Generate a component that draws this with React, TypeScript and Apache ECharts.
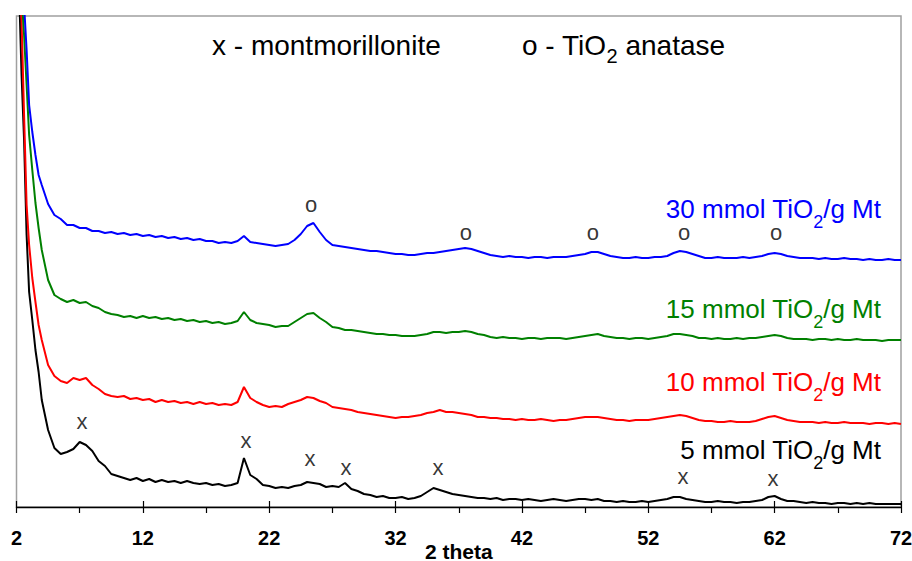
import React, { useEffect, useRef } from "react";
import * as echarts from "echarts";

// Diffraction angle (2 theta, degrees) shared by every pattern
const theta = [
  2.2, 2.4, 2.6, 2.8, 3.0, 3.25, 3.5, 3.75, 4.0,
  4.5, 5, 5.5, 6, 6.5, 7, 7.5, 8, 8.5, 9, 9.5,
  10, 10.5, 11, 11.5, 12, 12.5, 13, 13.5, 14, 14.5,
  15, 15.5, 16, 16.5, 17, 17.5, 18, 18.5, 19, 19.5,
  20, 20.5, 21, 21.5, 22, 22.5, 23, 23.5, 24, 24.5,
  25, 25.5, 26, 26.5, 27, 27.5, 28, 28.5, 29, 29.5,
  30, 30.5, 31, 31.5, 32, 32.5, 33, 33.5, 34, 34.5,
  35, 35.5, 36, 36.5, 37, 37.5, 38, 38.5, 39, 39.5,
  40, 40.5, 41, 41.5, 42, 42.5, 43, 43.5, 44, 44.5,
  45, 45.5, 46, 46.5, 47, 47.5, 48, 48.5, 49, 49.5,
  50, 50.5, 51, 51.5, 52, 52.5, 53, 53.5, 54, 54.5,
  55, 55.5, 56, 56.5, 57, 57.5, 58, 58.5, 59, 59.5,
  60, 60.5, 61, 61.5, 62, 62.5, 63, 63.5, 64, 64.5,
  65, 65.5, 66, 66.5, 67, 67.5, 68, 68.5, 69, 69.5,
  70, 70.5, 71, 71.5, 72,
];

// Intensities (a.u., patterns offset vertically) for each TiO2 loading
const mmol5 = [
  520, 432, 367, 272, 215, 187, 157, 135, 107,
  77, 59, 53, 55, 58, 65, 62, 56, 46, 41, 33,
  31, 29, 27, 29, 26, 28, 25, 27, 25, 26,
  24, 26, 24, 23, 24, 22, 23, 21, 22, 24,
  49, 32, 28, 22, 21, 19, 20, 19, 21, 22,
  25, 24, 23, 20, 21, 20, 24, 18, 16, 13,
  12, 10, 11, 9, 9, 10, 8, 9, 11, 15,
  19, 17, 15, 13, 12, 11, 10, 9, 9, 8,
  9, 7, 8, 8, 7, 8, 7, 6, 7, 8,
  7, 6, 7, 8, 8, 7, 8, 6, 6, 5,
  6, 5, 5, 6, 5, 6, 7, 8, 10, 10,
  8, 7, 6, 5, 5, 6, 5, 5, 4, 5,
  5, 6, 7, 10, 11, 8, 6, 6, 5, 4,
  5, 4, 4, 3, 4, 4, 3, 4, 3, 4,
  3, 3, 3, 3, 3,
];

const mmol10 = [
  530, 487, 392, 302, 262, 229, 205, 182, 167,
  142, 131, 126, 124, 129, 127, 129, 122, 118, 113, 111,
  110, 111, 108, 109, 107, 108, 105, 107, 105, 106,
  104, 105, 103, 105, 103, 104, 102, 103, 102, 105,
  120, 109, 105, 102, 100, 101, 100, 103, 105, 107,
  110, 109, 106, 104, 100, 99, 98, 97, 95, 94,
  93, 92, 91, 90, 89, 90, 90, 91, 92, 94,
  95, 97, 95, 95, 94, 93, 92, 90, 90, 89,
  89, 88, 88, 87, 88, 87, 87, 88, 87, 86,
  87, 87, 88, 89, 90, 90, 90, 89, 88, 87,
  87, 86, 87, 87, 87, 88, 89, 90, 91, 92,
  91, 89, 87, 86, 86, 85, 85, 86, 85, 85,
  85, 86, 88, 90, 91, 89, 87, 86, 85, 85,
  85, 84, 85, 84, 84, 85, 84, 84, 84, 83,
  84, 84, 83, 84, 83,
];

const mmol15 = [
  540, 512, 472, 422, 372, 337, 304, 279, 257,
  227, 212, 208, 205, 207, 204, 205, 201, 199, 195, 193,
  192, 190, 191, 189, 191, 189, 190, 188, 189, 187,
  188, 186, 187, 185, 186, 184, 185, 183, 184, 186,
  195, 187, 184, 183, 182, 180, 181, 181, 185, 189,
  193, 194, 189, 185, 180, 179, 177, 177, 176, 175,
  174, 173, 173, 172, 172, 171, 171, 171, 172, 173,
  175, 175, 174, 175, 175, 176, 175, 173, 172, 170,
  169, 170, 169, 169, 168, 169, 169, 168, 169, 169,
  169, 168, 169, 170, 171, 172, 173, 171, 170, 169,
  169, 168, 169, 169, 168, 169, 170, 171, 173, 173,
  172, 171, 169, 169, 168, 169, 168, 168, 169, 168,
  169, 169, 170, 171, 172, 171, 169, 168, 168, 168,
  167, 168, 168, 167, 168, 167, 167, 168, 167, 167,
  167, 166, 167, 167, 167,
];

const mmol30 = [
  550, 522, 502, 457, 402, 375, 352, 332, 322,
  303, 292, 288, 282, 282, 279, 279, 276, 276, 274, 275,
  273, 274, 272, 273, 271, 272, 270, 271, 269, 270,
  268, 269, 267, 268, 266, 266, 264, 265, 264, 266,
  271, 265, 264, 263, 262, 261, 262, 263, 267, 273,
  281, 284, 275, 267, 262, 261, 260, 259, 258, 257,
  256, 256, 255, 254, 253, 253, 252, 252, 253, 254,
  254, 255, 256, 257, 258, 259, 258, 256, 254, 252,
  251, 250, 251, 250, 250, 249, 250, 250, 249, 250,
  250, 250, 251, 252, 253, 255, 255, 253, 251, 250,
  249, 249, 250, 249, 249, 250, 250, 251, 254, 256,
  255, 253, 251, 249, 249, 250, 249, 249, 249, 250,
  249, 250, 251, 253, 254, 253, 251, 250, 249, 249,
  249, 248, 249, 248, 248, 249, 248, 248, 247, 248,
  247, 247, 248, 247, 247,
];

const loadings = ["5", "10", "15", "30"];
const patterns = [mmol5, mmol10, mmol15, mmol30];
const colors = ["#000000", "#ff0000", "#008000", "#0000ff"];

// Reflection markers: montmorillonite (x) on the 5 mmol pattern, anatase (o) on the 30 mmol pattern
const mmtTheta = [7.18, 20.16, 25.23, 28.08, 35.36, 54.75, 61.87];
const mmtLevel = [86, 67, 49, 40, 40, 31, 29];
const anataseTheta = [25.31, 37.57, 47.62, 54.83, 62.11];
const anataseLevel = [303, 275, 275, 275, 275];

const FONT = "'Liberation Sans', Arial, Helvetica, sans-serif";

export default function App() {
  const ref = useRef<HTMLDivElement>(null);

  useEffect(() => {
    if (!ref.current) return;
    const chart = echarts.init(ref.current, undefined, { renderer: "svg" });

    const lineSeries = patterns.map((vals, k) => ({
      type: "line",
      name: `${loadings[k]} mmol TiO2/g Mt`,
      data: theta.map((t, i) => [t, vals[i]]),
      showSymbol: false,
      symbol: "none",
      clip: true,
      silent: true,
      lineStyle: { color: colors[k], width: 2 },
      itemStyle: { color: colors[k] },
      z: 2 + k,
    }));

    const markerSeries = (xs: number[], ys: number[], ch: string) => ({
      type: "scatter",
      data: xs.map((t, i) => [t, ys[i]]),
      symbolSize: 0,
      silent: true,
      label: {
        show: true,
        position: "inside",
        formatter: `{a|${ch}}`,
        rich: {
          a: { color: "#000", fontFamily: FONT, fontSize: 22, lineHeight: 12, height: 12 },
        },
      },
      z: 10,
    });

    // rich-text styles: main run plus a lowered subscript run
    const sub = (fs: number, subFs: number, subLh: number, pad: number, color: string) => ({
      m: { fontSize: fs, lineHeight: fs + 1, verticalAlign: "top", fill: color, color, fontFamily: FONT },
      s: {
        fontSize: subFs,
        lineHeight: subLh,
        verticalAlign: "top",
        padding: [pad, 0, 0, 0],
        fill: color,
        color,
        fontFamily: FONT,
      },
    });

    const labelTops = [437, 369, 296, 196];
    const sampleLabels = loadings.map((l, k) => ({
      type: "text",
      x: 881,
      y: labelTops[k],
      silent: true,
      style: {
        text: `{m|${l} mmol TiO}{s|2}{m|/g Mt}`,
        rich: sub(26, 18, 10, 17, colors[k]),
        fill: colors[k],
        align: "right",
        textAlign: "right",
        verticalAlign: "top",
        textVerticalAlign: "top",
        fontFamily: FONT,
        fontSize: 26,
      },
    }));

    const legendTexts = [
      { x: 212, text: "{m|x - montmorillonite}" },
      { x: 522, text: "{m|o - TiO}{s|2}{m| anatase}" },
    ].map((d) => ({
      type: "text",
      x: d.x,
      y: 31,
      silent: true,
      style: {
        text: d.text,
        rich: sub(28, 20, 20, 15, "#000"),
        fill: "#000",
        align: "left",
        textAlign: "left",
        verticalAlign: "top",
        textVerticalAlign: "top",
        fontFamily: FONT,
        fontSize: 28,
      },
    }));

    chart.setOption({
      animation: false,
      backgroundColor: "#ffffff",
      grid: {
        left: 16.5,
        right: 11,
        top: 16,
        bottom: 54,
        containLabel: false,
        outerBoundsMode: "none",
        show: true,
        borderColor: "#a0a0a0",
        borderWidth: 1.5,
        backgroundColor: "transparent",
      },
      xAxis: [
        {
          type: "value",
          min: 2,
          max: 72,
          interval: 10,
          position: "bottom",
          name: "2 theta",
          nameLocation: "middle",
          nameGap: 35,
          nameMoveOverlap: false,
          nameTextStyle: {
            color: "#000",
            fontFamily: FONT,
            fontWeight: "bold",
            fontSize: 21,
            verticalAlign: "top",
            lineHeight: 18,
          },
          axisLine: { show: true, lineStyle: { color: "#000", width: 1.3 } },
          axisTick: { show: true, inside: false, length: 6, lineStyle: { color: "#000", width: 1.2 } },
          minorTick: { show: true, splitNumber: 2, length: 6, lineStyle: { color: "#000", width: 1.2 } },
          axisLabel: {
            show: true,
            margin: 21,
            color: "#000",
            fontFamily: FONT,
            fontWeight: "bold",
            fontSize: 20,
            showMinLabel: true,
            showMaxLabel: true,
          },
          splitLine: { show: false },
        },
        {
          type: "value",
          min: 2,
          max: 72,
          interval: 10,
          position: "bottom",
          axisLine: { show: false },
          axisTick: { show: true, inside: true, length: 6, lineStyle: { color: "#000", width: 1.2 } },
          axisLabel: { show: false },
          splitLine: { show: false },
        },
      ],
      yAxis: {
        type: "value",
        min: 0,
        max: 491,
        show: false,
        splitLine: { show: false },
      },
      series: [
        ...lineSeries,
        markerSeries(mmtTheta, mmtLevel, "x"),
        markerSeries(anataseTheta, anataseLevel, "o"),
      ],
      graphic: [...legendTexts, ...sampleLabels],
    });

    return () => chart.dispose();
  }, []);

  return (
    <div
      ref={ref}
      style={{ position: "fixed", left: 0, top: 0, width: 912, height: 561, background: "#fff" }}
    />
  );
}
